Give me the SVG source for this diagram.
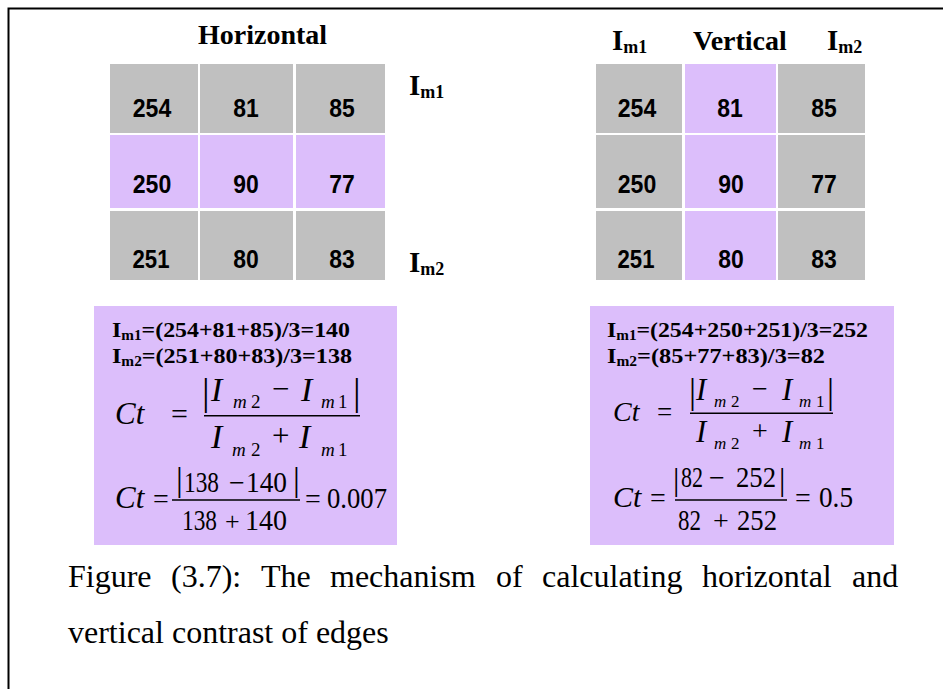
<svg xmlns="http://www.w3.org/2000/svg" width="943" height="689" viewBox="0 0 943 689">
<style>
.g{fill:#C0C0C0}
.p{fill:#DCBEFB}
.num{font-family:"Liberation Sans",Arial,sans-serif;font-weight:bold;font-size:25px;fill:#000;text-anchor:middle}
.tb{font-family:"Liberation Serif","Times New Roman",serif;font-weight:bold;fill:#000}
.mi{font-family:"Liberation Serif","Times New Roman",serif;font-style:italic;fill:#000}
.mr{font-family:"Liberation Serif","Times New Roman",serif;fill:#000}
.cap{font-family:"Liberation Serif","Times New Roman",serif;font-size:32px;fill:#000}
.fl{stroke:#000;stroke-width:1.4}
</style>
<rect width="943" height="689" fill="#fff"/>
<path d="M8.5,689 V8.5 H943" fill="none" stroke="#000" stroke-width="2"/>

<g id="horizontal-grid">
<text class="tb" x="198" y="44" font-size="28">Horizontal</text>
<rect class="g" x="110" y="64" width="88" height="69"/>
<rect class="g" x="200" y="64" width="93" height="69"/>
<rect class="g" x="296" y="64" width="89" height="69"/>
<rect class="p" x="110" y="135" width="88" height="73"/>
<rect class="p" x="200" y="135" width="93" height="73"/>
<rect class="p" x="296" y="135" width="89" height="73"/>
<rect class="g" x="110" y="211" width="88" height="69"/>
<rect class="g" x="200" y="211" width="93" height="69"/>
<rect class="g" x="296" y="211" width="89" height="69"/>
<text class="num" x="152" y="117" textLength="38.5" lengthAdjust="spacingAndGlyphs">254</text>
<text class="num" x="246" y="117" textLength="25.5" lengthAdjust="spacingAndGlyphs">81</text>
<text class="num" x="342" y="117" textLength="25.5" lengthAdjust="spacingAndGlyphs">85</text>
<text class="num" x="152" y="193" textLength="38.5" lengthAdjust="spacingAndGlyphs">250</text>
<text class="num" x="246" y="193" textLength="25.5" lengthAdjust="spacingAndGlyphs">90</text>
<text class="num" x="342" y="193" textLength="25.5" lengthAdjust="spacingAndGlyphs">77</text>
<text class="num" x="151" y="268" textLength="37" lengthAdjust="spacingAndGlyphs">251</text>
<text class="num" x="246" y="268" textLength="25.5" lengthAdjust="spacingAndGlyphs">80</text>
<text class="num" x="342" y="268" textLength="25.5" lengthAdjust="spacingAndGlyphs">83</text>
<text class="tb" x="409" y="95" font-size="29">I<tspan font-size="18" dy="3">m1</tspan></text>
<text class="tb" x="409" y="272" font-size="29">I<tspan font-size="18" dy="3">m2</tspan></text>
</g>

<g id="vertical-grid">
<text class="tb" x="612" y="50" font-size="29">I<tspan font-size="18" dy="3">m1</tspan></text>
<text class="tb" x="693" y="50" font-size="28">Vertical</text>
<text class="tb" x="827" y="50" font-size="29">I<tspan font-size="18" dy="3">m2</tspan></text>
<rect class="g" x="596" y="64" width="86" height="69"/>
<rect class="p" x="685" y="64" width="91" height="69"/>
<rect class="g" x="778" y="64" width="87" height="69"/>
<rect class="g" x="596" y="135" width="86" height="73"/>
<rect class="p" x="685" y="135" width="91" height="73"/>
<rect class="g" x="778" y="135" width="87" height="73"/>
<rect class="g" x="596" y="211" width="86" height="69"/>
<rect class="p" x="685" y="211" width="91" height="69"/>
<rect class="g" x="778" y="211" width="87" height="69"/>
<text class="num" x="637" y="117" textLength="38.5" lengthAdjust="spacingAndGlyphs">254</text>
<text class="num" x="730" y="117" textLength="25.5" lengthAdjust="spacingAndGlyphs">81</text>
<text class="num" x="824" y="117" textLength="25.5" lengthAdjust="spacingAndGlyphs">85</text>
<text class="num" x="637" y="193" textLength="38.5" lengthAdjust="spacingAndGlyphs">250</text>
<text class="num" x="731" y="193" textLength="25.5" lengthAdjust="spacingAndGlyphs">90</text>
<text class="num" x="824" y="193" textLength="25.5" lengthAdjust="spacingAndGlyphs">77</text>
<text class="num" x="636" y="268" textLength="37" lengthAdjust="spacingAndGlyphs">251</text>
<text class="num" x="731" y="268" textLength="25.5" lengthAdjust="spacingAndGlyphs">80</text>
<text class="num" x="824" y="268" textLength="25.5" lengthAdjust="spacingAndGlyphs">83</text>
</g>

<g id="horizontal-formula">
<rect class="p" x="94" y="306" width="303" height="239"/>
<text class="tb" x="112" y="336.5" font-size="22" textLength="238" lengthAdjust="spacingAndGlyphs">I<tspan font-size="14" dy="3">m1</tspan><tspan dy="-3">=(254+81+85)/3=140</tspan></text>
<text class="tb" x="112" y="363" font-size="22" textLength="240" lengthAdjust="spacingAndGlyphs">I<tspan font-size="14" dy="3">m2</tspan><tspan dy="-3">=(251+80+83)/3=138</tspan></text>
<text class="mi" x="115" y="424" font-size="31">Ct</text>
<text class="mr" x="171" y="424" font-size="30">=</text>
<line class="fl" x1="204" y1="415.7" x2="360" y2="415.7"/>
<text class="mr" x="202" y="405" font-size="38">|</text>
<text class="mi" x="211" y="401" font-size="34">I</text>
<text class="mi" x="233" y="408" font-size="19">m</text>
<text class="mr" x="251" y="408" font-size="19">2</text>
<text class="mr" x="272" y="399" font-size="31">−</text>
<text class="mi" x="301" y="401" font-size="34">I</text>
<text class="mi" x="321" y="408" font-size="19">m</text>
<text class="mr" x="338" y="408" font-size="19">1</text>
<text class="mr" x="353" y="405" font-size="38">|</text>
<text class="mi" x="211" y="448" font-size="34">I</text>
<text class="mi" x="232" y="456" font-size="19">m</text>
<text class="mr" x="251" y="456" font-size="19">2</text>
<text class="mr" x="272" y="446" font-size="31">+</text>
<text class="mi" x="299" y="448" font-size="34">I</text>
<text class="mi" x="321" y="456" font-size="19">m</text>
<text class="mr" x="338" y="456" font-size="19">1</text>
<text class="mi" x="115" y="508" font-size="31">Ct</text>
<text class="mr" x="153" y="508" font-size="28">=</text>
<line class="fl" x1="172" y1="500" x2="300" y2="500"/>
<text class="mr" x="176" y="491" font-size="34">|</text>
<text class="mr" x="184" y="491.5" font-size="29" textLength="35" lengthAdjust="spacingAndGlyphs">138</text>
<text class="mr" x="229" y="491.5" font-size="28">−</text>
<text class="mr" x="246" y="491.5" font-size="29" textLength="41" lengthAdjust="spacingAndGlyphs">140</text>
<text class="mr" x="293" y="491" font-size="34">|</text>
<text class="mr" x="182" y="530" font-size="29" textLength="35" lengthAdjust="spacingAndGlyphs">138</text>
<text class="mr" x="225" y="530" font-size="26">+</text>
<text class="mr" x="245" y="530" font-size="29" textLength="42" lengthAdjust="spacingAndGlyphs">140</text>
<text class="mr" x="305" y="508" font-size="28">=</text>
<text class="mr" x="327" y="508" font-size="29" textLength="60" lengthAdjust="spacingAndGlyphs">0.007</text>
</g>

<g id="vertical-formula">
<rect class="p" x="590" y="306" width="304" height="239"/>
<text class="tb" x="607" y="336.5" font-size="22" textLength="261" lengthAdjust="spacingAndGlyphs">I<tspan font-size="14" dy="3">m1</tspan><tspan dy="-3">=(254+250+251)/3=252</tspan></text>
<text class="tb" x="607" y="363" font-size="22" textLength="218" lengthAdjust="spacingAndGlyphs">I<tspan font-size="14" dy="3">m2</tspan><tspan dy="-3">=(85+77+83)/3=82</tspan></text>
<text class="mi" x="613" y="421" font-size="28">Ct</text>
<text class="mr" x="657" y="421" font-size="27">=</text>
<line class="fl" x1="690" y1="413.3" x2="833" y2="413.3"/>
<text class="mr" x="689" y="402.5" font-size="35">|</text>
<text class="mi" x="696" y="400" font-size="31">I</text>
<text class="mi" x="714" y="407" font-size="17">m</text>
<text class="mr" x="731" y="407" font-size="17">2</text>
<text class="mr" x="752" y="398" font-size="28">−</text>
<text class="mi" x="782" y="400" font-size="31">I</text>
<text class="mi" x="799" y="407" font-size="17">m</text>
<text class="mr" x="816" y="407" font-size="17">1</text>
<text class="mr" x="827" y="402.5" font-size="35">|</text>
<text class="mi" x="696" y="442" font-size="31">I</text>
<text class="mi" x="714" y="449" font-size="17">m</text>
<text class="mr" x="731" y="449" font-size="17">2</text>
<text class="mr" x="752" y="440" font-size="28">+</text>
<text class="mi" x="782" y="442" font-size="31">I</text>
<text class="mi" x="799" y="449" font-size="17">m</text>
<text class="mr" x="816" y="449" font-size="17">1</text>
<text class="mi" x="613" y="507" font-size="30">Ct</text>
<text class="mr" x="650" y="507" font-size="28">=</text>
<line class="fl" x1="675" y1="500" x2="787" y2="500"/>
<text class="mr" x="673" y="490" font-size="32">|</text>
<text class="mr" x="681" y="487" font-size="29" textLength="22" lengthAdjust="spacingAndGlyphs">82</text>
<text class="mr" x="709" y="487" font-size="28">−</text>
<text class="mr" x="736" y="487" font-size="29" textLength="40" lengthAdjust="spacingAndGlyphs">252</text>
<text class="mr" x="779" y="490" font-size="32">|</text>
<text class="mr" x="678" y="530" font-size="29" textLength="23" lengthAdjust="spacingAndGlyphs">82</text>
<text class="mr" x="713" y="530" font-size="28">+</text>
<text class="mr" x="737" y="530" font-size="29" textLength="40" lengthAdjust="spacingAndGlyphs">252</text>
<text class="mr" x="795" y="507" font-size="28">=</text>
<text class="mr" x="819" y="507" font-size="30" textLength="34" lengthAdjust="spacingAndGlyphs">0.5</text>
</g>

<g id="caption">
<text class="cap" y="587"><tspan x="68">Figure</tspan><tspan x="171">(3.7):</tspan><tspan x="261">The</tspan><tspan x="330">mechanism</tspan><tspan x="496">of</tspan><tspan x="542">calculating</tspan><tspan x="702">horizontal</tspan><tspan x="852">and</tspan></text>
<text class="cap" x="68" y="643">vertical contrast of edges</text>
</g>
</svg>
